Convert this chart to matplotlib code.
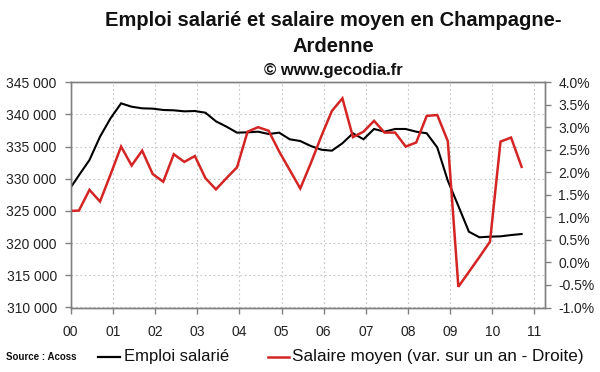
import numpy as np
import matplotlib
matplotlib.use("Agg")
import matplotlib.pyplot as plt
from matplotlib.ticker import FuncFormatter, MultipleLocator

plt.rcParams['font.family'] = ['Liberation Sans', 'DejaVu Sans']

# Quarterly data, 2000 T1 -> 2010 T4
emploi = [328100, 330530, 332900, 336520, 339380, 341700, 341180, 340930,
          340880, 340670, 340620, 340460, 340510, 340250, 338910, 338080,
          337150, 337200, 337300, 336940, 337150, 336120, 335850, 335080,
          334500, 334350, 335500, 337050, 336120, 337720, 337300, 337720,
          337720, 337300, 337050, 334850, 329690, 325760, 321770, 320900,
          321000, 321050, 321250, 321410]
salaire = [1.14, 1.15, 1.61, 1.35, 1.95, 2.57, 2.15, 2.48,
           1.96, 1.79, 2.40, 2.23, 2.36, 1.87, 1.62, 1.87,
           2.11, 2.90, 3.00, 2.92, 2.46, 2.05, 1.64, 2.20,
           2.80, 3.36, 3.64, 2.78, 2.90, 3.14, 2.88, 2.88,
           2.57, 2.66, 3.25, 3.27, 2.69, -0.54, -0.21, 0.12,
           0.46, 2.68, 2.77, 2.12]
year_labels = ["00", "01", "02", "03", "04", "05", "06", "07", "08", "09", "10", "11"]

title_lines = ["Emploi salarié et salaire moyen en Champagne-", "Ardenne"]
copyright_txt = "© www.gecodia.fr"
source_txt = "Source : Acoss"
label_emploi = "Emploi salarié"
label_salaire = "Salaire moyen (var. sur un an - Droite)"

RED = '#d42525'
SPINE = '#808080'
GRID = '#c4c4c4'

fig = plt.figure(figsize=(6.0, 3.72), dpi=100)
fig.patch.set_facecolor('white')
ax = fig.add_axes([70.7 / 600, 1 - 307.5 / 372, (545 - 70.7) / 600, (307.5 - 82.1) / 372])
ax2 = ax.twinx()

x = np.arange(len(emploi)) / 4 - 0.055

ax.plot(x, emploi, color='black', lw=1.5, solid_joinstyle='miter', clip_on=True)
ax2.plot(x, salaire, color=RED, lw=1.8, solid_joinstyle='miter', clip_on=True)

ax.set_xlim(0, 11.25)
ax.set_ylim(310000, 345000)
ax2.set_ylim(-1.0, 4.0)

ax.set_xticks(range(len(year_labels)))
ax.set_xticklabels(year_labels)
ax.yaxis.set_major_locator(MultipleLocator(5000))
ax.yaxis.set_major_formatter(FuncFormatter(lambda v, p: f"{int(v):,}".replace(",", " ")))
ax2.yaxis.set_major_locator(MultipleLocator(0.5))
ax2.yaxis.set_major_formatter(FuncFormatter(lambda v, p: f"{v:.1f}%"))

ax.grid(True, which='major', axis='both', color=GRID, linestyle=(0, (1.5, 2.5)), lw=0.8)
ax.set_axisbelow(True)

for a in (ax, ax2):
    for s in a.spines.values():
        s.set_color(SPINE)
        s.set_linewidth(1.0)

ax.tick_params(axis='x', direction='out', length=4.5, width=1, color=SPINE,
               labelsize=10, pad=8.0, labelcolor='#222222')
ax.tick_params(axis='y', direction='out', length=4.5, width=1, color=SPINE,
               labelsize=10, pad=5.5, labelcolor='#222222')
ax2.tick_params(axis='y', direction='out', length=4.5, width=1, color=SPINE,
                labelsize=10, pad=5.0, labelcolor='#222222')

# Titles
cx = 333 / 600
fig.text(cx, 1 - 20 / 372, title_lines[0], ha='center', va='center',
         fontsize=14.5, fontweight='bold', color='#111111')
fig.text(cx, 1 - 47 / 372, title_lines[1], ha='center', va='center',
         fontsize=14.5, fontweight='bold', color='#111111')
fig.text(cx, 1 - 70 / 372, copyright_txt, ha='center', va='center',
         fontsize=12, fontweight='bold', color='#111111')

# Legend row
ly = 1 - 357 / 372
fig.text(6 / 600, ly, source_txt, ha='left', va='center', fontsize=7,
         fontweight='bold', color='#111111')
fig.add_artist(plt.Line2D([98 / 600, 120 / 600], [ly, ly], color='black', lw=1.6,
                          transform=fig.transFigure))
fig.text(124 / 600, ly, label_emploi, ha='left', va='center', fontsize=12, color='#111111')
fig.add_artist(plt.Line2D([268 / 600, 289 / 600], [ly, ly], color=RED, lw=1.8,
                          transform=fig.transFigure))
fig.text(292 / 600, ly, label_salaire, ha='left', va='center', fontsize=12.3, color='#111111')

fig.savefig('out.png', dpi=100, facecolor='white')
